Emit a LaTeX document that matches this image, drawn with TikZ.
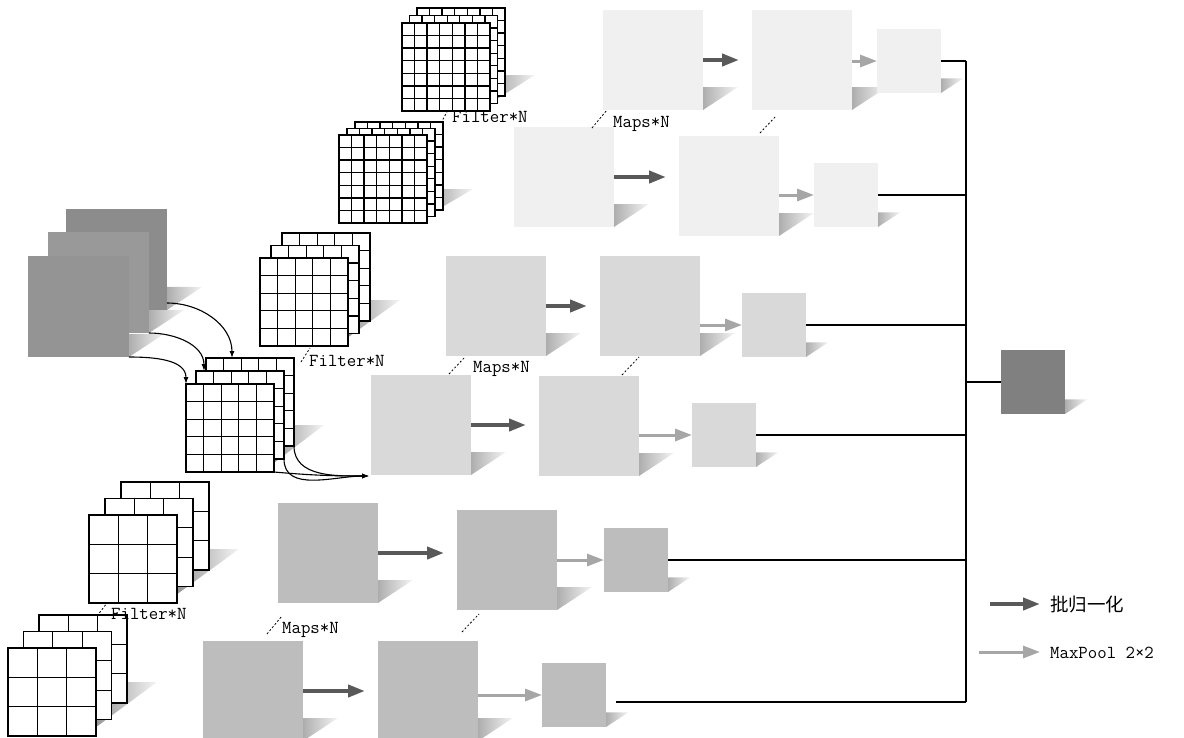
\documentclass[tikz,border=0pt]{standalone}
\usepackage{fontspec}
\newfontfamily\cjk{Noto Sans CJK SC}
\usetikzlibrary{arrows.meta,calc,backgrounds}

\definecolor{inback}{gray}{0.55}
\definecolor{inmid}{gray}{0.60}
\definecolor{infront}{gray}{0.58}
\definecolor{mapA}{gray}{0.94}
\definecolor{mapB}{gray}{0.85}
\definecolor{mapC}{gray}{0.74}
\definecolor{outgray}{gray}{0.50}
\definecolor{bndark}{gray}{0.35}
\definecolor{mplight}{gray}{0.65}

\tikzset{
  fmap/.style={fill=#1, inner sep=0pt, outer sep=0pt, anchor=north west, minimum size=100pt},
  pool/.style={fmap=#1, minimum size=64pt},
  kgrid/.style={draw, fill=white, line width=1.3pt, minimum size=88pt, inner sep=0pt, outer sep=0pt, anchor=north west,
    path picture={
      \foreach \k in {1,...,#1}{
        \draw[line width=1.3pt]
          ($(path picture bounding box.north west)!\k/#1!(path picture bounding box.north east)$) --
          ($(path picture bounding box.south west)!\k/#1!(path picture bounding box.south east)$)
          ($(path picture bounding box.north west)!\k/#1!(path picture bounding box.south west)$) --
          ($(path picture bounding box.north east)!\k/#1!(path picture bounding box.south east)$);
      }}},
  bn/.style={draw=bndark, line width=4pt, -{Triangle[length=17pt,width=12pt]}, shorten >=13pt},
  mp/.style={draw=mplight, line width=3pt, -{Triangle[length=17pt,width=12pt]}},
  feed/.style={line width=1.1pt, -{Latex[length=7pt,width=5pt]}},
  bus/.style={line width=1.6pt},
  many/.style={dash pattern=on 2pt off 2pt, line width=0.8pt},
  tag/.style={font=\ttfamily\fontsize{18.3}{20}\selectfont, inner sep=0pt, anchor=west},
}

% 卷积核三层叠放：名字, 前层左上角 x, y, 格数, 层间偏移 dx, dy
\newcommand{\kstack}[6]{%
  \foreach \l/\m in {3/2,2/1,1/0}{%
    \node[kgrid=#4] (#1-\l) at ({#2+\m*(#5)},{#3+\m*(#6)}) {};
  }}
% 投影：方块右下角的灰色三角
\newcommand{\castshadow}[2]{%
  \shade[left color=black!32, right color=black!4]
    (#1.south east) -- ++(0,{-0.23*#2}) -- ++({0.35*#2},0) -- cycle;}
\newcommand{\stackshadow}[1]{%
  \shade[left color=black!48, right color=black!4]
    ($(#1-3.south east)+(0,-21)$) -- ++(30,0) -- ($(#1-1.south east)+(-12,0)$) -- cycle;}

\begin{document}
\begin{tikzpicture}[x=1pt, y=-1pt, line cap=butt, line join=miter]

  % ── 输入：三张深灰特征图 ──
  \node[fmap=inback, minimum size=101pt] (inA) at (66,209) {};
  \node[fmap=inmid, minimum size=101pt] (inB) at (48,232) {};
  \node[fmap=infront, minimum size=101pt] (inC) at (28,256) {};

  % ── 卷积核（7×7 / 5×5 / 3×3）──
  \kstack{k1a}{402}{23}{7}{7.5}{-7.5}
  \kstack{k1b}{339}{135}{7}{8}{-6.5}
  \kstack{k2a}{260}{258}{5}{11}{-12.5}
  \kstack{k2b}{186}{384}{5}{10}{-13}
  \kstack{k3a}{89}{515}{3}{16}{-16.5}
  \kstack{k3b}{8}{648}{3}{15.5}{-16.5}

  % ── 特征图：卷积 → 批归一化 → 池化 ──
  \node[fmap=mapA] (m1a1) at (603,10) {};
  \node[fmap=mapA] (m1a2) at (752,10) {};
  \node[pool=mapA] (p1a) at (877,29) {};
  \node[fmap=mapA] (m1b1) at (514,127) {};
  \node[fmap=mapA] (m1b2) at (679,136) {};
  \node[pool=mapA] (p1b) at (814,163) {};

  \node[fmap=mapB] (m2a1) at (446,256) {};
  \node[fmap=mapB] (m2a2) at (600,256) {};
  \node[pool=mapB] (p2a) at (742,293) {};
  \node[fmap=mapB] (m2b1) at (371,375) {};
  \node[fmap=mapB] (m2b2) at (539,376) {};
  \node[pool=mapB] (p2b) at (692,403) {};

  \node[fmap=mapC] (m3a1) at (278,503) {};
  \node[fmap=mapC] (m3a2) at (457,510) {};
  \node[pool=mapC] (p3a) at (604,528) {};
  \node[fmap=mapC] (m3b1) at (203,641) {};
  \node[fmap=mapC] (m3b2) at (378,641) {};
  \node[pool=mapC] (p3b) at (542,663) {};

  \node[pool=outgray] (out) at (1001,350) {};

  \foreach \a/\b/\c in {m1a1/m1a2/p1a, m1b1/m1b2/p1b, m2a1/m2a2/p2a,
                        m2b1/m2b2/p2b, m3a1/m3a2/p3a, m3b1/m3b2/p3b}{
    \draw[bn] (\a) -- (\a -| \b.west);
    \draw[mp] (\b.east |- \c) -- (\c);
  }

  % ── 输入 → 卷积核 → 特征图 的弧线 ──
  \draw[feed] ($(inA.south east)+(0,-7)$) to[out=0,in=90] ($(k2b-3.north west)+(26,0)$);
  \draw[feed] (inB.south east) to[out=0,in=90] ($(k2b-2.north west)+(8,0)$);
  \draw[feed] (inC.south east) to[out=0,in=90] (k2b-1.north west);
  \coordinate (entry) at ($(m2b1.south west)+(-2,1)$);
  \draw[feed] (k2b-3.south east) to[out=-90,in=180] (entry);
  \draw[feed] (k2b-2.south east) to[out=-90,in=180] (entry);
  \draw[feed] (k2b-1.south east) to[out=-5,in=180] (entry);

  % ── 汇总总线 ──
  \coordinate (busx) at (966,0);
  \coordinate (tail) at ($(p3b.east)+(10,7)$);
  \foreach \p in {p1a,p1b,p2a,p2b,p3a}
    \draw[bus] (\p.east) -- (\p.east -| busx);
  \draw[bus] (tail) -- (tail -| busx);
  \draw[bus] (p1a.east -| busx) -- (tail -| busx);
  \draw[bus] (out.west -| busx) -- (out.west);

  % ── 省略号虚线与标注 ──
  \draw[many] (441,123) -- (448,110);
  \draw[many] (301,362) -- (310,348);
  \draw[many] (97,616) -- (107,603);
  \draw[many] (592,128) -- (607,110);
  \draw[many] (760,133) -- (776,116);
  \draw[many] (449,374) -- (465,357);
  \draw[many] (622,375) -- (639,357);
  \draw[many] (267,634) -- (282,616);
  \draw[many] (462,632) -- (479,614);

  \node[tag] (f1) at (452,117) {Filter*N};
  \node[tag] (f2) at (309,361) {Filter*N};
  \node[tag] (f3) at (111,614) {Filter*N};
  \node[tag] (n1) at (613,124) {Maps*N};
  \node[tag] (n2) at (473,369) {Maps*N};
  \node[tag] (n3) at (282,630) {Maps*N};

  % ── 图例 ──
  \node[tag, font=\cjk\fontsize{18.5}{20}\selectfont] (lg1) at (1050,604) {批归一化};
  \node[tag] (lg2) at (1050,653) {MaxPool 2×2};
  \coordinate (lgA) at (990,604);
  \coordinate (lgB) at (979,652);
  \draw[bn, shorten >=10pt] (lgA) -- (lg1.west);
  \draw[mp, shorten >=10pt] (lgB) -- (lg2.west |- lgB);

  % ── 投影放到底层 ──
  \begin{scope}[on background layer]
    \foreach \n/\s in {inA/101, inB/101, inC/101, out/64,
                       m1a1/100, m1a2/100, p1a/64, m1b1/100, m1b2/100, p1b/64,
                       m2a1/100, m2a2/100, p2a/64, m2b1/100, m2b2/100, p2b/64,
                       m3a1/100, m3a2/100, p3a/64, m3b1/100, m3b2/100, p3b/64}
      \castshadow{\n}{\s};
    \foreach \n in {k1a,k1b,k2a,k2b,k3a,k3b}
      \stackshadow{\n};
  \end{scope}

  \pgfresetboundingbox
  \path[use as bounding box] (0,0) rectangle (1184,737);
\end{tikzpicture}
\end{document}
